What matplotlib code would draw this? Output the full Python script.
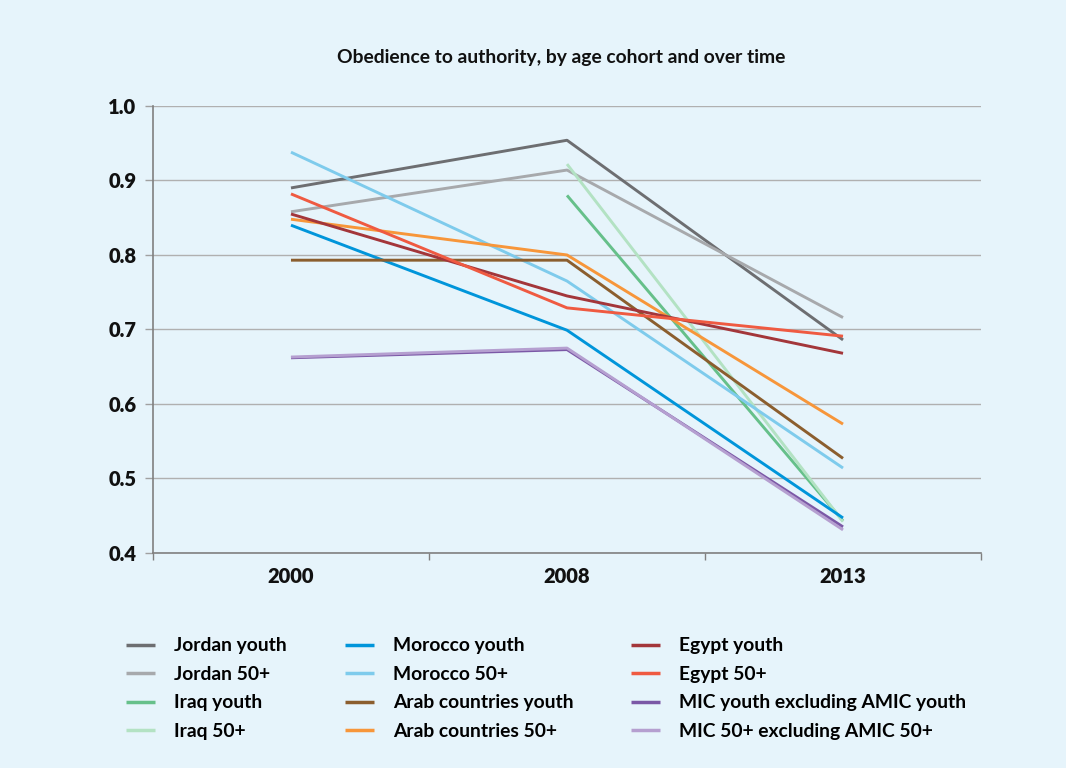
import matplotlib
matplotlib.use("Agg")
import matplotlib.pyplot as plt
from matplotlib.ticker import FixedLocator

years = ["2000", "2008", "2013"]
series_names = [
    "Jordan youth", "Jordan 50+", "Iraq youth", "Iraq 50+",
    "Morocco youth", "Morocco 50+", "Arab countries youth", "Arab countries 50+",
    "Egypt youth", "Egypt 50+", "MIC youth excluding AMIC youth", "MIC 50+ excluding AMIC 50+",
]
jordan_youth = [0.890, 0.954, 0.686]
jordan_50 = [0.858, 0.914, 0.716]
iraq_youth = [None, 0.880, 0.443]
iraq_50 = [None, 0.922, 0.442]
morocco_youth = [0.840, 0.699, 0.447]
morocco_50 = [0.938, 0.765, 0.514]
arab_youth = [0.793, 0.793, 0.527]
arab_50 = [0.848, 0.800, 0.573]
egypt_youth = [0.855, 0.745, 0.668]
egypt_50 = [0.882, 0.729, 0.691]
mic_youth = [0.662, 0.673, 0.435]
mic_50 = [0.663, 0.675, 0.431]

values = [jordan_youth, jordan_50, iraq_youth, iraq_50, morocco_youth, morocco_50,
          arab_youth, arab_50, egypt_youth, egypt_50, mic_youth, mic_50]
colors = ["#6d6e71", "#a7a9ac", "#66c08a", "#b3e2c3", "#0095da", "#7ecbec",
          "#8b5e2e", "#f7963a", "#a3363a", "#ef5a41", "#7b58a6", "#b59fd0"]

FONT = ["Lato", "DejaVu Sans"]
bg = "#e6f4fb"

fig = plt.figure(figsize=(10.66, 7.68), dpi=100, facecolor=bg)
ax = fig.add_axes([0.1435, 0.280, 0.9203 - 0.1435, 0.862 - 0.280])
ax.set_facecolor(bg)

for name, vals, c in zip(series_names, values, colors):
    xs = [i for i, v in enumerate(vals) if v is not None]
    ys = [v for v in vals if v is not None]
    ax.plot(xs, ys, color=c, lw=2.1, label=name, solid_capstyle="butt")

ax.set_xlim(-0.5, 2.5)
ax.set_ylim(0.4, 1.0)
ax.set_yticks([0.4, 0.5, 0.6, 0.7, 0.8, 0.9, 1.0])
ax.set_yticklabels(["0.4", "0.5", "0.6", "0.7", "0.8", "0.9", "1.0"])
ax.set_xticks([0, 1, 2])
ax.set_xticklabels(years)
ax.xaxis.set_minor_locator(FixedLocator([-0.5, 0.5, 1.5, 2.5]))
ax.tick_params(axis="x", which="major", length=0, pad=10)
ax.tick_params(axis="x", which="minor", length=5, width=1, color="#808080", direction="out")
ax.tick_params(axis="y", length=6, width=1, color="#a0a0a0", pad=6)
for lab in ax.get_xticklabels() + ax.get_yticklabels():
    lab.set_fontfamily(FONT)
    lab.set_fontweight("heavy")
    lab.set_fontsize(14.5)
    lab.set_color("#111111")

ax.grid(axis="y", color="#b0b0b0", lw=1)
ax.set_axisbelow(True)
for s in ["top", "right"]:
    ax.spines[s].set_visible(False)
ax.spines["left"].set_color("#808080")
ax.spines["bottom"].set_color("#808080")
ax.spines["left"].set_linewidth(1.2)
ax.spines["bottom"].set_linewidth(1.2)

fig.text(561 / 1066, 1 - 57 / 768, "Obedience to authority, by age cohort and over time",
         ha="center", va="center", fontsize=13.9, fontweight="bold", family=FONT, color="#111111")

leg = fig.legend(loc="upper left", bbox_to_anchor=(109 / 1066, 1 - 620 / 768), ncol=3,
                 frameon=False, prop={"family": FONT, "weight": "bold", "size": 13.85},
                 handlelength=1.5, handletextpad=1.0, columnspacing=3.0, labelspacing=0.6)
for h in leg.get_lines():
    h.set_linewidth(2.5)

fig.savefig("out.png", dpi=100, facecolor=bg)
